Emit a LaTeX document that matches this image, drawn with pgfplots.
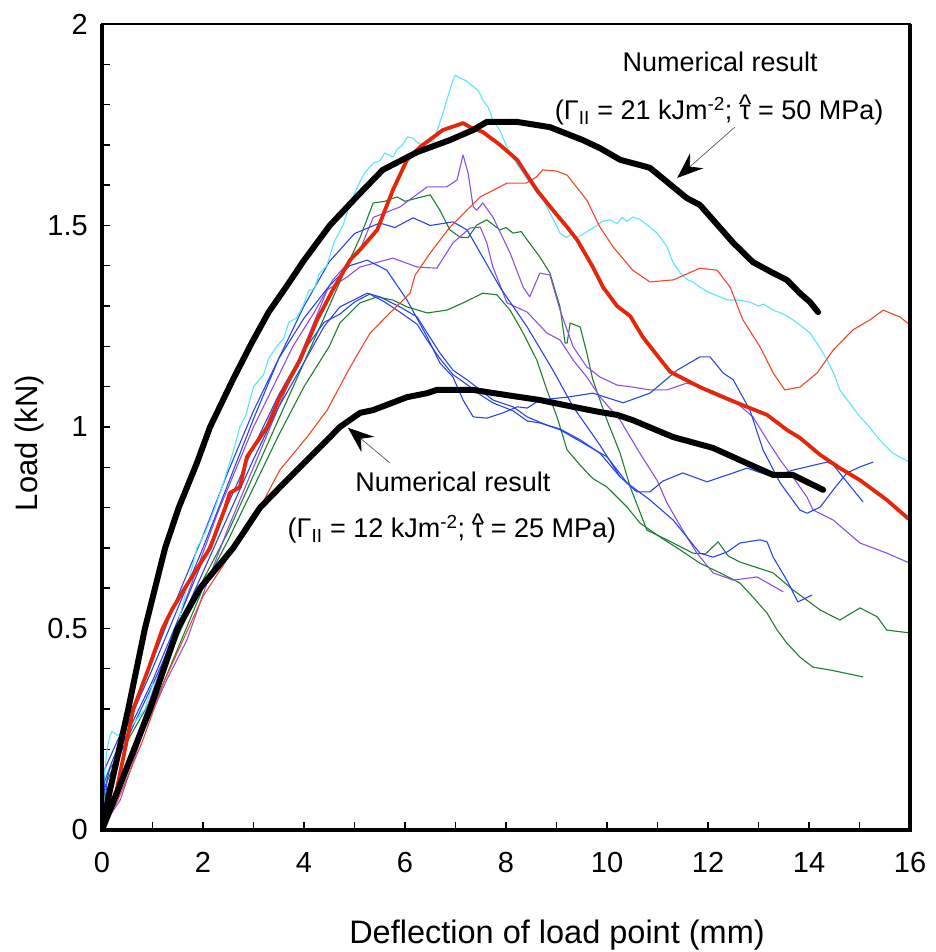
\documentclass[border=0pt]{standalone}
\usepackage{fontspec}
\setmainfont{Liberation Sans}
\usepackage{pgfplots}
\pgfplotsset{compat=1.18}
\usetikzlibrary{arrows.meta}
\definecolor{cCyan}{RGB}{90,228,255}
\definecolor{cBlue}{RGB}{40,70,230}
\definecolor{cPurple}{RGB}{140,80,225}
\definecolor{cGreen}{RGB}{30,125,50}
\definecolor{cRedThin}{RGB}{240,70,40}
\definecolor{cRed}{RGB}{228,38,10}
\newcommand{\tauhat}{\ooalign{τ\cr\hidewidth\raisebox{0.22em}{\textasciicircum}\hidewidth\cr}}
\begin{document}
\fontsize{29}{34}\selectfont
\begin{tikzpicture}
\path[use as bounding box] (-102pt,-122pt) rectangle (833pt,830pt);
\begin{axis}[
  scale only axis, width=808pt, height=806pt,
  xmin=0, xmax=16, ymin=0, ymax=2,
  xtick={0,2,...,16}, minor xtick={1,3,...,15},
  ytick={0,0.5,1,1.5,2},
  minor ytick={0.1,0.2,0.3,0.4,0.6,0.7,0.8,0.9,1.1,1.2,1.3,1.4,1.6,1.7,1.8,1.9},
  tick pos=left, tick align=inside,
  major tick length=8pt, minor tick length=8pt,
  tick style={black, line width=1.4pt},
  axis line style={line width=2.2pt},
  /pgf/number format/assume math mode=true,
  tick label style={font=\fontsize{29}{34}\selectfont},
  xticklabel style={inner sep=0pt, anchor=north, yshift=-22pt},
  yticklabel style={inner sep=0pt, anchor=east, xshift=-14pt},
  every axis plot/.append style={no marks, line join=round},
  after end axis/.code={
    \draw[line width=4.5pt] (rel axis cs:0,1) -- (rel axis cs:0,0) -- (rel axis cs:1,0) -- (rel axis cs:1,1);
  },
]
% ---- green
\addplot[cGreen, line width=1.1pt] coordinates {(0,0) (0.05,0.1) (0.15,0.15) (0.5,0.22) (1.0,0.33) (1.5,0.48) (2.0,0.62) (2.5,0.74) (3.0,0.88) (3.5,1.02) (4.0,1.16) (4.5,1.3) (4.85,1.4) (5.11,1.47) (5.37,1.556) (5.6,1.56) (5.84,1.571) (6.0,1.56) (6.24,1.568) (6.5,1.576) (6.69,1.538) (6.89,1.489) (7.09,1.471) (7.25,1.47) (7.42,1.501) (7.62,1.514) (7.88,1.489) (8.0,1.495) (8.14,1.481) (8.3,1.485) (8.42,1.464) (8.67,1.422) (8.87,1.382) (9.07,1.298) (9.17,1.208) (9.21,1.208) (9.27,1.258) (9.47,1.248) (9.6,1.184) (9.72,1.117) (9.86,1.067) (10.0,1.017) (10.26,0.935) (10.46,0.851) (10.79,0.744) (11.19,0.72) (11.7,0.687) (11.95,0.685) (12.2,0.715) (12.4,0.68) (12.63,0.665) (13.29,0.638) (13.68,0.596) (14.22,0.546) (14.61,0.521) (15.01,0.551) (15.35,0.529) (15.54,0.496) (16,0.489)};
\addplot[cGreen, line width=1.1pt] coordinates {(0,0) (0.1,0.05) (0.5,0.16) (1.0,0.3) (1.5,0.45) (2.0,0.6) (2.5,0.72) (3.0,0.85) (3.5,0.98) (4.0,1.1) (4.5,1.2) (4.71,1.258) (5.11,1.308) (5.45,1.323) (5.76,1.315) (6.04,1.298) (6.44,1.283) (6.83,1.29) (7.15,1.308) (7.54,1.332) (7.82,1.328) (8.08,1.29) (8.34,1.233) (8.61,1.166) (8.81,1.092) (9.01,1.025) (9.21,0.943) (9.47,0.905) (9.72,0.872) (10.0,0.851) (10.4,0.801) (10.65,0.762) (11.05,0.727) (11.45,0.695) (11.84,0.662) (12.24,0.638) (12.63,0.613) (12.89,0.578) (13.17,0.538) (13.37,0.496) (13.56,0.464) (13.82,0.429) (14.08,0.404) (14.42,0.397) (15.07,0.38)};
% ---- purple
\addplot[cPurple, line width=1.1pt] coordinates {(0,0) (0.3,0.1) (0.8,0.27) (1.3,0.45) (1.8,0.62) (2.3,0.79) (3.0,1.0) (3.39,1.1) (3.78,1.2) (4.18,1.28) (4.57,1.365) (5.11,1.44) (5.37,1.52) (5.9,1.546) (6.44,1.596) (6.83,1.596) (7.03,1.613) (7.15,1.675) (7.25,1.63) (7.35,1.546) (7.42,1.538) (7.54,1.556) (7.74,1.521) (8.08,1.432) (8.34,1.347) (8.47,1.323) (8.67,1.382) (8.87,1.377) (9.07,1.29) (9.33,1.199) (9.6,1.149) (9.86,1.124) (10.2,1.104) (10.51,1.099) (10.85,1.092) (11.19,1.092) (11.58,1.109) (12.04,1.092) (12.5,1.067) (12.89,1.025) (13.17,0.968) (13.43,0.918) (13.68,0.876) (13.96,0.826) (14.08,0.794) (14.48,0.769) (15.01,0.712) (15.54,0.687) (16,0.662)};
\addplot[cPurple, line width=1.1pt] coordinates {(0,0) (0.1,0.025) (0.36,0.074) (0.81,0.241) (1.28,0.372) (1.68,0.471) (2.08,0.613) (2.5,0.75) (3.0,0.9) (3.5,1.05) (4.0,1.2) (4.46,1.34) (4.85,1.372) (5.11,1.397) (5.76,1.419) (6.24,1.397) (6.63,1.394) (6.95,1.457) (7.29,1.494) (7.49,1.496) (7.62,1.457) (7.74,1.397) (8.02,1.308) (8.42,1.285) (8.81,1.233) (9.07,1.216) (9.33,1.166) (9.6,1.124) (9.86,1.075) (10.26,1.017) (10.65,0.935) (10.99,0.868) (11.19,0.811) (11.5,0.744) (11.78,0.687) (12.1,0.638) (12.5,0.62) (12.97,0.628) (13.49,0.591)};
% ---- blue
\addplot[cBlue, line width=1.1pt] coordinates {(0,0) (0.05,0.12) (0.2,0.17) (0.5,0.26) (1.0,0.4) (1.5,0.55) (2.0,0.7) (2.5,0.86) (3.0,1.02) (3.5,1.17) (4.0,1.3) (4.5,1.41) (5.0,1.48) (5.5,1.506) (5.8,1.495) (6.16,1.519) (6.5,1.5) (6.95,1.509) (7.23,1.489) (7.49,1.432) (7.88,1.347) (8.42,1.248) (8.93,1.141) (9.33,1.05) (9.86,0.955) (10.26,0.876)};
\addplot[cBlue, line width=1.1pt] coordinates {(0,0) (0.05,0.15) (0.3,0.22) (0.7,0.33) (1.0,0.42) (1.5,0.58) (2.0,0.73) (2.5,0.89) (3.0,1.04) (3.5,1.17) (4.0,1.27) (4.5,1.35) (4.9,1.40) (5.25,1.414) (5.64,1.389) (6.04,1.315) (6.44,1.223) (6.69,1.159) (6.95,1.124) (7.15,1.067) (7.35,1.025) (7.62,1.022) (7.94,1.035) (8.22,1.05) (8.42,1.047) (8.67,1.067) (9.21,1.074) (9.72,1.084) (10.32,1.06) (10.85,1.084) (11.39,1.141) (11.84,1.174) (12.04,1.174) (12.3,1.134) (12.5,1.117) (12.83,1.042) (13.09,0.943) (13.43,0.861) (13.82,0.794) (13.96,0.786) (14.22,0.801) (14.48,0.844) (14.75,0.886) (15.01,0.901) (15.27,0.913)};
\addplot[cBlue, line width=1.1pt] coordinates {(0,0) (0.1,0.1) (0.4,0.2) (1.0,0.36) (1.5,0.5) (2.0,0.64) (2.5,0.78) (3.0,0.92) (3.5,1.05) (4.0,1.16) (4.4,1.25) (4.71,1.298) (5.25,1.332) (5.5,1.323) (5.9,1.298) (6.24,1.273) (6.44,1.233) (6.69,1.184) (6.95,1.141) (7.23,1.117) (7.49,1.092) (7.74,1.067) (8.14,1.05) (8.42,1.025) (8.8,1.005) (9.07,0.993) (10.0,0.926) (10.4,0.861) (10.85,0.819) (11.31,0.769) (11.84,0.687) (12.1,0.677) (12.38,0.69) (12.63,0.712) (13.03,0.72) (13.17,0.715) (13.29,0.677) (13.56,0.62) (13.78,0.566) (14.06,0.583)};
\addplot[cBlue, line width=1.1pt] coordinates {(0,0) (0.1,0.12) (0.5,0.24) (1.0,0.37) (1.5,0.52) (2.0,0.67) (2.5,0.81) (3.0,0.95) (3.5,1.08) (4.0,1.19) (4.4,1.26) (4.71,1.28) (5.0,1.31) (5.3,1.33) (5.6,1.31) (5.9,1.285) (6.24,1.255) (6.44,1.215) (6.69,1.17) (6.95,1.13) (7.23,1.105) (7.49,1.08) (7.74,1.06) (8.14,1.04) (8.42,1.015) (8.67,1.01) (9.07,0.995) (9.47,0.968) (9.86,0.935) (10.26,0.876) (10.59,0.839) (10.85,0.839) (11.11,0.866) (11.5,0.886) (11.98,0.864) (12.5,0.886) (12.77,0.898) (13.29,0.876) (13.68,0.893) (14.36,0.913) (14.48,0.906) (14.67,0.876) (15.07,0.814)};
% ---- cyan
\addplot[cCyan, line width=1.1pt] coordinates {(0,0) (0.03,0.12) (0.1,0.2) (0.15,0.23) (0.2,0.245) (0.3,0.235) (0.4,0.24) (0.5,0.25) (0.6,0.26) (0.85,0.3) (1.0,0.36) (1.1,0.37) (1.2,0.4) (1.35,0.46) (1.48,0.5) (1.68,0.6) (1.88,0.7) (2.05,0.74) (2.24,0.8) (2.4,0.86) (2.5,0.9) (2.6,0.94) (2.73,1.0) (2.85,1.03) (3.0,1.1) (3.2,1.13) (3.3,1.17) (3.46,1.2) (3.6,1.22) (3.7,1.26) (3.85,1.27) (3.98,1.3) (4.1,1.34) (4.2,1.34) (4.3,1.38) (4.45,1.4) (4.6,1.46) (4.77,1.5) (4.91,1.553) (5.07,1.6) (5.2,1.63) (5.37,1.655) (5.5,1.66) (5.6,1.68) (5.76,1.670) (5.85,1.69) (5.95,1.70) (6.05,1.72) (6.16,1.717) (6.25,1.705) (6.35,1.70) (6.45,1.712) (6.55,1.707) (6.65,1.74) (6.75,1.779) (6.85,1.82) (6.95,1.861) (7.0,1.873) (7.1,1.865) (7.2,1.86) (7.3,1.85) (7.35,1.845) (7.45,1.835) (7.54,1.811) (7.64,1.795) (7.74,1.762) (7.88,1.735) (8.02,1.695) (8.15,1.665) (8.34,1.63) (8.45,1.61) (8.61,1.581) (8.75,1.56) (8.87,1.531) (9.0,1.50) (9.07,1.481) (9.2,1.47) (9.3,1.48) (9.41,1.471) (9.55,1.48) (9.66,1.489) (9.8,1.50) (9.9,1.51) (10.06,1.514) (10.2,1.505) (10.3,1.52) (10.4,1.51) (10.51,1.521) (10.65,1.515) (10.85,1.496) (11.0,1.48) (11.19,1.447) (11.3,1.41) (11.45,1.382) (11.6,1.365) (11.7,1.36) (11.84,1.347) (12.0,1.335) (12.2,1.325) (12.38,1.315) (12.6,1.315) (12.83,1.31) (13.0,1.30) (13.1,1.305) (13.29,1.29) (13.5,1.28) (13.68,1.266) (13.85,1.25) (14.02,1.233) (14.2,1.2) (14.36,1.166) (14.5,1.13) (14.61,1.092) (14.8,1.06) (15.01,1.025) (15.2,1.0) (15.35,0.975) (15.5,0.955) (15.66,0.935) (15.8,0.925) (16,0.913)};
% ---- thin red
\addplot[cRedThin, line width=1.1pt] coordinates {(0,0) (0.3,0.07) (0.8,0.22) (1.2,0.36) (1.6,0.47) (2.0,0.58) (2.6,0.695) (3.13,0.80) (3.52,0.893) (4.06,0.975) (4.46,1.042) (4.85,1.134) (5.11,1.191) (5.31,1.233) (5.7,1.283) (6.1,1.332) (6.2,1.377) (6.5,1.432) (6.89,1.496) (7.49,1.571) (8.02,1.605) (8.4,1.605) (8.6,1.62) (8.73,1.638) (9.0,1.635) (9.21,1.625) (9.6,1.563) (9.86,1.496) (10.12,1.447) (10.51,1.389) (10.85,1.36) (11.31,1.365) (11.84,1.394) (12.18,1.389) (12.44,1.347) (12.69,1.266) (13.03,1.199) (13.29,1.134) (13.52,1.092) (13.82,1.099) (14.16,1.134) (14.48,1.191) (14.87,1.241) (15.21,1.266) (15.47,1.29) (15.8,1.273) (16,1.253)};
% ---- thick red
\addplot[cRed, line width=3.8pt] coordinates {(0,0) (0.29,0.1) (0.62,0.3) (0.92,0.4) (1.2,0.5) (1.4,0.55) (1.64,0.6) (2.14,0.7) (2.44,0.8) (2.53,0.836) (2.73,0.851) (2.87,0.926) (3.27,1.0) (3.52,1.074) (3.92,1.166) (4.26,1.266) (4.57,1.34) (4.91,1.414) (5.11,1.44) (5.45,1.489) (5.76,1.588) (6.04,1.663) (6.30,1.695) (6.75,1.737) (7.15,1.754) (7.29,1.744) (7.54,1.732) (7.88,1.70) (8.22,1.663) (8.61,1.588) (8.93,1.538) (9.21,1.496) (9.41,1.464) (9.72,1.397) (9.92,1.347) (10.2,1.30) (10.46,1.275) (10.71,1.223) (10.91,1.191) (11.25,1.137) (11.84,1.099) (12.30,1.074) (12.77,1.050) (13.17,1.030) (13.56,0.993) (13.82,0.973) (14.22,0.931) (14.61,0.898) (15.01,0.868) (15.54,0.819) (16,0.769)};
% ---- numerical (black)
\addplot[black, line width=6pt, line cap=round] coordinates {(0,0) (0.16,0.1) (0.52,0.3) (0.85,0.5) (1.25,0.7) (1.52,0.8) (1.88,0.911) (2.14,1.0) (2.59,1.117) (2.97,1.21) (3.3,1.285) (3.66,1.35) (3.98,1.41) (4.51,1.5) (5.11,1.58) (5.56,1.638) (6.24,1.682) (6.89,1.712) (7.35,1.737) (7.62,1.757) (8.22,1.757) (8.87,1.744) (9.52,1.712) (9.86,1.692) (10.26,1.663) (10.65,1.650) (10.85,1.643) (11.58,1.568) (11.84,1.551) (12.50,1.457) (12.89,1.409) (13.29,1.382) (13.56,1.365) (13.82,1.332) (14.02,1.310) (14.18,1.285)};
\addplot[black, line width=6pt, line cap=round] coordinates {(0,0) (0.32,0.1) (0.95,0.3) (1.5,0.5) (1.94,0.6) (2.6,0.7) (3.13,0.8) (3.66,0.868) (4.46,0.968) (4.71,1.0) (5.11,1.035) (5.37,1.042) (6.04,1.074) (6.44,1.084) (6.63,1.092) (7.35,1.092) (8.02,1.079) (8.67,1.067) (9.33,1.050) (9.86,1.037) (10.2,1.03) (10.51,1.017) (11.31,0.975) (12.10,0.948) (12.63,0.918) (13.29,0.881) (13.68,0.881) (14.28,0.844)};
% ---- annotations
\node[anchor=base, font=\fontsize{27}{32}\selectfont] at (axis cs:12.24,1.881) {Numerical result};
\node[anchor=base, font=\fontsize{27}{32}\selectfont] at (axis cs:12.22,1.762) {(Γ\textsubscript{II} = 21 kJm\textsuperscript{-2}; \tauhat{} = 50 MPa)};
\node[anchor=base, font=\fontsize{27}{32}\selectfont] at (axis cs:6.95,0.839) {Numerical result};
\node[anchor=base, font=\fontsize{27}{32}\selectfont] at (axis cs:6.93,0.7246) {(Γ\textsubscript{II} = 12 kJm\textsuperscript{-2}; \tauhat{} = 25 MPa)};
\draw[line width=0.7pt, black!65, -{Stealth[length=26pt,width=20pt,inset=9pt,black]}] (axis cs:12.53,1.744) -- (axis cs:11.39,1.618);
\draw[line width=0.7pt, black!65, -{Stealth[length=26pt,width=20pt,inset=9pt,black]}] (axis cs:5.70,0.911) -- (axis cs:4.87,0.998);
\end{axis}
\node[anchor=base, font=\fontsize{32.5}{38}\selectfont] at (455pt,-113pt) {Deflection of load point (mm)};
\node[anchor=base, rotate=90, font=\fontsize{31}{36}\selectfont] at (-64pt,387pt) {Load (kN)};
\end{tikzpicture}
\end{document}
